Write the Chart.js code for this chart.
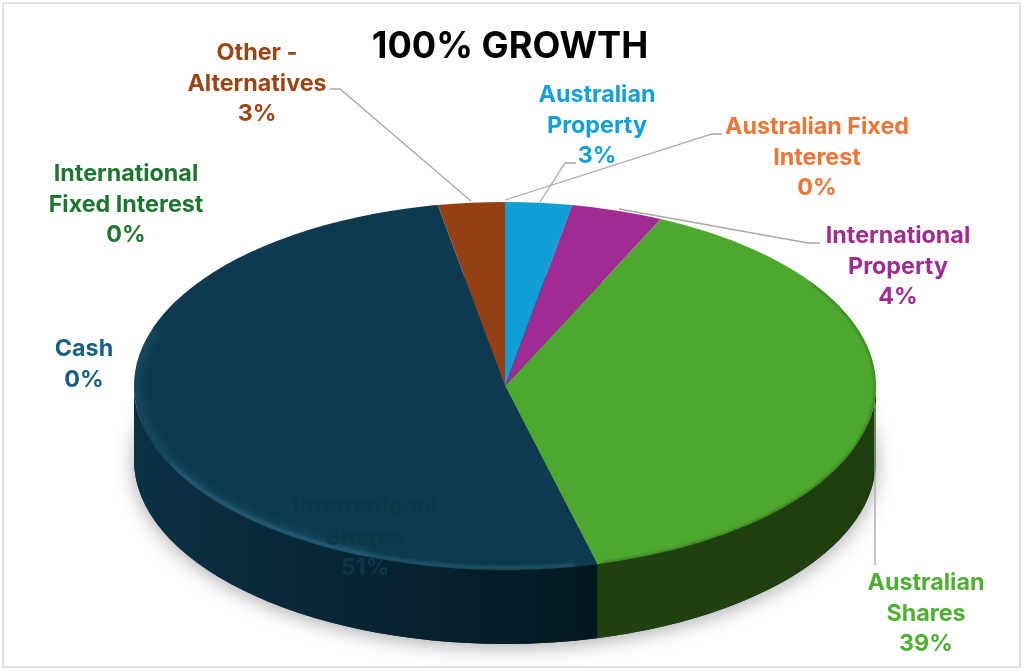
<!DOCTYPE html>
<html>
<head>
<meta charset="utf-8">
<style>html,body{margin:0;padding:0;background:#fff;overflow:hidden}canvas{display:block}</style>
<script src="https://cdn.jsdelivr.net/npm/chart.js@4"></script>
</head>
<body>
<canvas id="c" width="1024" height="671" style="width:1024px;height:671px"></canvas>
<script>
const chartTitle = "100% GROWTH";
const categories = ["Cash","Australian Fixed Interest","International Fixed Interest","Australian Property","International Property","Australian Shares","International Shares","Other - Alternatives"];
const shareValues = [0,0,0,2.9,4.0,39.1,51.1,2.9];
const percentLabels = ["0%","0%","0%","3%","4%","39%","51%","3%"];
const sliceColors = ["#156082","#E97132","#196B24","#0F9ED5","#A02B93","#4EA72E","#0D3A4E","#953F14"];
const textColors = ["#156082","#F07535","#1E7530","#12A0D8","#A02B93","#4EAF30","#0C3649","#9C4514"];
const wrappedNames = [["Cash"],["Australian Fixed","Interest"],["International","Fixed Interest"],["Australian","Property"],["International","Property"],["Australian","Shares"],["International","Shares"],["Other -","Alternatives"]];
const sideDark = [null,null,null,null,null,["#21410f","#1f3e0e"],["#0b3145","#04171f"],null];
// layout only
const labelCentres = [[84,349],[817,127],[126,174],[597,95],[898,236],[926,583],[365,507],[257,53]];
const leaderLines = [
 [[330,89],[340,89],[471,201]],
 [[722,134],[712,134],[505,200]],
 [[576,163],[565,163],[540,202]],
 [[820,243],[808,243],[619,209]],
 [[875,403],[875,565]]
];
const RX=371, RY=184, DEPTH=74, LINE=30.6;

const pie3d = {
 id:"pie3d",
 beforeDraw(chart){
  const c=chart.ctx;
  c.save();c.fillStyle="#fff";c.fillRect(0,0,1024,671);
  c.strokeStyle="#d9d9d9";c.lineWidth=1.5;c.strokeRect(3,3,1017,664);c.restore();
 },
 beforeDatasetsDraw(chart){
  const c=chart.ctx, arcs=chart.getDatasetMeta(0).data, cx=arcs[0].x, cy=arcs[0].y;
  c.save();
  c.shadowColor="rgba(0,0,0,0.34)";c.shadowBlur=20;c.shadowOffsetY=3;
  c.fillStyle="#0b3145";
  c.beginPath();c.ellipse(cx,cy+DEPTH,RX,RY,0,0,Math.PI*2);c.fill();
  c.restore();
  arcs.forEach((arc,i)=>{
   if(!sideDark[i])return;
   const a=Math.max(arc.startAngle,0), b=Math.min(arc.endAngle,Math.PI);
   if(b<=a)return;
   const g=c.createLinearGradient(cx+RX*Math.cos(b),0,cx+RX*Math.cos(a),0);
   g.addColorStop(0,sideDark[i][0]);g.addColorStop(1,sideDark[i][1]);
   c.fillStyle=g;
   c.beginPath();
   c.ellipse(cx,cy,RX,RY,0,a,b);
   c.ellipse(cx,cy+DEPTH,RX,RY,0,b,a,true);
   c.closePath();c.fill();
  });
  c.save();
  c.translate(cx,cy);c.scale(1,RY/RX);c.translate(-cx,-cy);
 },
 afterDatasetsDraw(chart){
  const c=chart.ctx, arcs=chart.getDatasetMeta(0).data, cx=arcs[0].x, cy=arcs[0].y;
  c.restore();
  // bevel on the front rim
  c.save();
  c.beginPath();c.ellipse(cx,cy,RX,RY,0,0,Math.PI*2);c.clip();
  const blue=arcs[6], green=arcs[5];
  c.filter="blur(4px)";
  c.strokeStyle="rgba(50,115,150,0.30)";c.lineWidth=9;
  c.beginPath();c.ellipse(cx,cy,RX-2,RY-2,0,Math.PI*0.62,Math.PI*1.1);c.stroke();
  c.filter="blur(1.5px)";
  c.strokeStyle="rgba(70,140,175,0.38)";c.lineWidth=3;
  c.beginPath();c.ellipse(cx,cy,RX-2,RY-2,0,Math.max(blue.startAngle,0)+0.06,Math.PI*0.86);c.stroke();
  c.strokeStyle="rgba(20,50,10,0.45)";c.lineWidth=2.5;
  c.beginPath();c.ellipse(cx,cy,RX,RY,0,-0.6,green.endAngle-0.01);c.stroke();
  c.restore();
  // leaders
  c.save();c.strokeStyle="#a8a8a8";c.lineWidth=1.3;
  leaderLines.forEach(l=>{c.beginPath();l.forEach((p,k)=>k?c.lineTo(p[0],p[1]):c.moveTo(p[0],p[1]));c.stroke();});
  c.restore();
  // labels
  c.save();c.textAlign="center";c.textBaseline="middle";
  c.font="700 23.3px Inter";
  categories.forEach((n,i)=>{
   const [x,y]=labelCentres[i];
   c.fillStyle=textColors[i];
   wrappedNames[i].concat([percentLabels[i]]).forEach((t,k)=>c.fillText(t,x,y+k*LINE));
  });
  c.fillStyle="#000";c.font="700 36.2px Inter";
  c.fillText(chartTitle,510,47);
  c.restore();
 }
};

new Chart(document.getElementById("c"),{
 type:"pie",
 data:{labels:categories,datasets:[{data:shareValues,backgroundColor:sliceColors,borderWidth:0,clip:false}]},
 options:{
  responsive:false,animation:false,radius:RX,
  layout:{padding:{left:0,right:14,top:101,bottom:0}},
  plugins:{legend:{display:false},title:{display:false},tooltip:{enabled:false}}
 },
 plugins:[pie3d]
});
</script>
</body>
</html>
